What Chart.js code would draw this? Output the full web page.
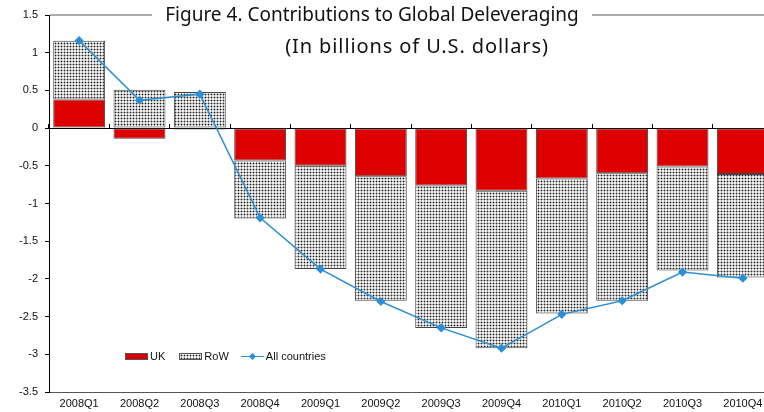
<!DOCTYPE html>
<html>
<head>
<meta charset="utf-8">
<script src="https://cdn.jsdelivr.net/npm/chart.js@4/dist/chart.umd.min.js"></script>
<style>
  body { margin: 0; background: #fff; }
  #wrap { position: relative; width: 764px; height: 412px; overflow: hidden; }
  #c { position: absolute; left: 0; top: 0; }
  #topline { position: absolute; left: 50px; top: 14px; width: 720px; height: 2px; background: #aaa; }
  .t1, .t2 { position: absolute; font-family: "Noto Sans", sans-serif; color: #111; white-space: nowrap; text-align: center; }
  .t1 { left: 152px; width: 440px; top: 1px; font-size: 19px; line-height: 26px; background: #fff; }
  .t2 { left: 284px; width: 266px; top: 33px; font-size: 20px; letter-spacing: 0.9px; line-height: 26px; }
  #legend { position: absolute; left: 125px; top: 349px; font: 11px "Liberation Sans", Arial, sans-serif; color: #111; }
  #legend span { display: inline-block; vertical-align: middle; }
  .sw { width: 23px; height: 7px; border: 1px solid #555; box-sizing: border-box; margin-right: 2px; }
</style>
</head>
<body>
<div id="wrap">
  <canvas id="c" width="790" height="412"></canvas>
  <div id="topline"></div>
  <div class="t1">Figure 4. Contributions to Global Deleveraging</div>
  <div class="t2">(In billions of U.S. dollars)</div>
  <div id="legend">
    <span class="sw" style="background:#dd0000"></span><span style="margin-right:11px">UK</span>
    <span class="sw" id="rowSw"></span><span style="margin-right:9px">RoW</span>
    <span style="width:23px;height:9px;position:relative;margin-right:2px">
      <span style="position:absolute;left:0;top:4px;width:23px;height:1.5px;background:#2b8fd8"></span>
      <span style="position:absolute;left:9px;top:2px;width:5px;height:5px;background:#2b8fd8;transform:rotate(45deg)"></span>
    </span><span>All countries</span>
  </div>
</div>
<script>
const quarters = ['2008Q1', '2008Q2', '2008Q3', '2008Q4', '2009Q1', '2009Q2', '2009Q3', '2009Q4', '2010Q1', '2010Q2', '2010Q3', '2010Q4'];
const uk = [0.38, -0.14, -0.02, -0.43, -0.50, -0.64, -0.76, -0.83, -0.67, -0.60, -0.51, -0.61];
const row = [0.78, 0.51, 0.48, -0.77, -1.37, -1.65, -1.89, -2.09, -1.79, -1.69, -1.38, -1.37];
const allCountries = [1.16, 0.37, 0.45, -1.19, -1.87, -2.30, -2.65, -2.92, -2.47, -2.29, -1.91, -1.99];

// dotted fill for RoW
const tile = document.createElement('canvas');
tile.width = 3; tile.height = 3;
const tc = tile.getContext('2d');
tc.fillStyle = '#f0f0f0';
tc.fillRect(0, 0, 3, 3);
tc.fillStyle = '#a8a8a8';
tc.fillRect(1, 0, 1, 3);
tc.fillRect(0, 1, 3, 1);
tc.fillStyle = '#222';
tc.fillRect(1, 1, 1, 1);
const ctx = document.getElementById('c').getContext('2d');
const dots = ctx.createPattern(tile, 'repeat');
document.getElementById('rowSw').style.background = 'url(' + tile.toDataURL() + ')';

const tickFont = { family: '"Liberation Sans", Arial, sans-serif', size: 11 };

new Chart(ctx, {
  type: 'bar',
  data: {
    labels: quarters,
    datasets: [
      {
        type: 'line',
        label: 'All countries',
        data: allCountries,
        borderColor: '#2b8fd8',
        backgroundColor: '#2b8fd8',
        borderWidth: 1.5,
        pointStyle: 'rectRot',
        pointRadius: 3.5,
        tension: 0,
        order: 0
      },
      {
        label: 'UK',
        data: uk,
        backgroundColor: '#dd0000',
        borderColor: '#444',
        borderWidth: 1,
        borderSkipped: false,
        order: 1
      },
      {
        label: 'RoW',
        data: row,
        backgroundColor: dots,
        borderColor: '#444',
        borderWidth: 1,
        borderSkipped: false,
        order: 1
      }
    ]
  },
  options: {
    responsive: false,
    animation: false,
    layout: { padding: { top: 15, right: 17, left: 0, bottom: 0 } },
    datasets: { bar: { barPercentage: 0.86, categoryPercentage: 1 } },
    plugins: {
      legend: { display: false },
      tooltip: { enabled: false }
    },
    scales: {
      x: {
        stacked: true,
        offset: true,
        grid: { display: false, drawTicks: false },
        border: { display: true, color: '#555', width: 1 },
        ticks: { color: '#111', font: tickFont, padding: 5, maxRotation: 0, autoSkip: false },
        afterFit: s => { s.height = 20; }
      },
      xZero: {
        type: 'category',
        labels: quarters,
        position: { y: 0 },
        offset: true,
        grid: { display: true, drawOnChartArea: false, drawTicks: true, tickLength: -5, color: '#000', offset: true },
        border: { display: true, color: '#000', width: 1 },
        ticks: { display: false }
      },
      y: {
        stacked: true,
        min: -3.5,
        max: 1.5,
        ticks: {
          stepSize: 0.5, color: '#111', font: tickFont, padding: 7,
          callback: v => String(+v.toFixed(1))
        },
        grid: { drawOnChartArea: false, drawTicks: true, tickLength: 4, color: '#000' },
        border: { display: true, color: '#000', width: 1 },
        afterFit: s => { s.width = 49; }
      }
    }
  }
});
</script>
</body>
</html>
